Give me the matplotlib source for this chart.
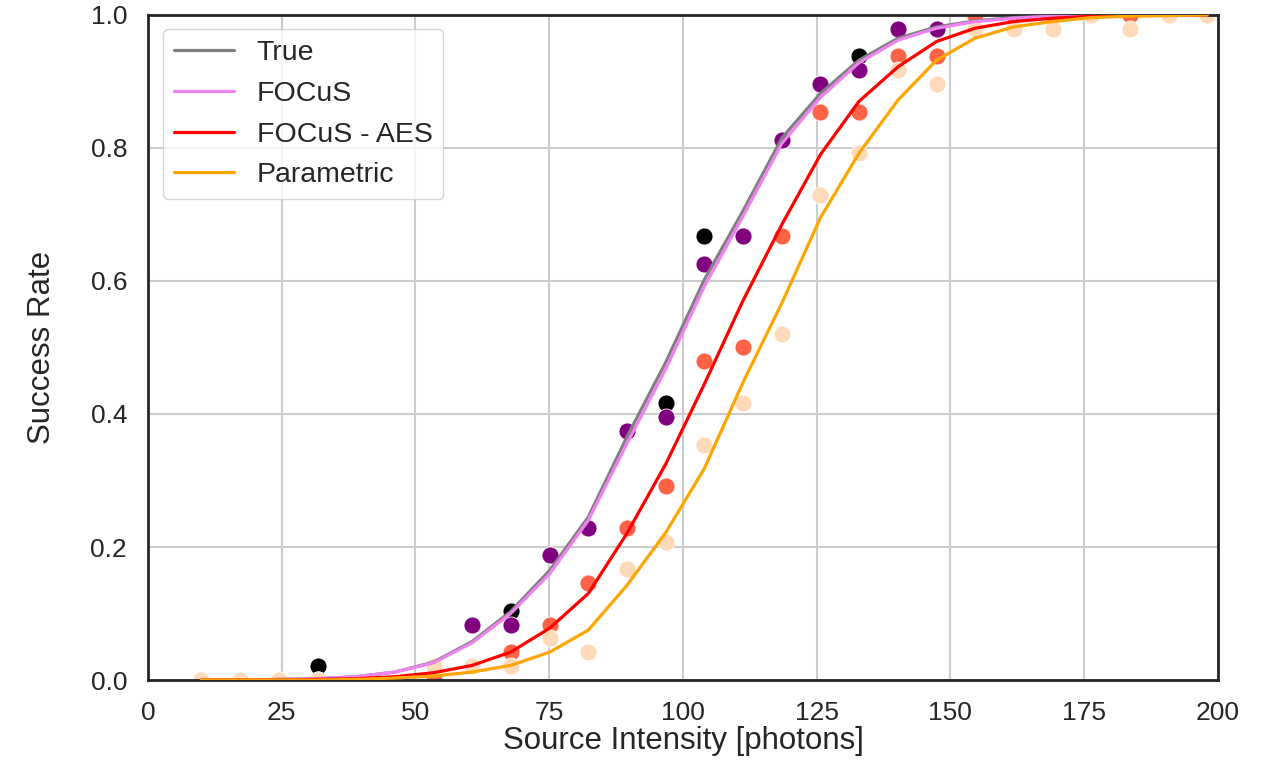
import numpy as np
import matplotlib
matplotlib.use("Agg")
import matplotlib.pyplot as plt
import seaborn as sns

# ---------------------------------------------------------------------------
# Data
# ---------------------------------------------------------------------------
intensity = [10.0, 17.2, 24.5, 31.7, 38.9, 46.2, 53.4, 60.6, 67.8, 75.1, 82.3,
             89.5, 96.8, 104.0, 111.2, 118.5, 125.7, 132.9, 140.2, 147.4,
             154.6, 161.8, 169.1, 176.3, 183.5, 190.8, 198.0]

# fitted curves
true_curve = [0.0, 0.0, 0.001, 0.002, 0.005, 0.012, 0.027, 0.058, 0.103, 0.165,
              0.245, 0.365, 0.478, 0.602, 0.705, 0.815, 0.882, 0.932, 0.965,
              0.982, 0.991, 0.996, 0.998, 0.999, 1.0, 1.0, 1.0]
focus_curve = [0.0, 0.0, 0.001, 0.002, 0.005, 0.012, 0.026, 0.056, 0.100, 0.160,
               0.240, 0.355, 0.468, 0.592, 0.697, 0.807, 0.876, 0.928, 0.962,
               0.980, 0.990, 0.995, 0.998, 0.999, 1.0, 1.0, 1.0]
aes_curve = [0.0, 0.0, 0.0, 0.001, 0.002, 0.005, 0.011, 0.022, 0.042, 0.078,
             0.130, 0.220, 0.325, 0.445, 0.570, 0.685, 0.790, 0.870, 0.922,
             0.960, 0.980, 0.990, 0.995, 0.998, 0.999, 1.0, 1.0]
param_curve = [0.0, 0.0, 0.0, 0.0, 0.001, 0.003, 0.006, 0.012, 0.022, 0.042,
               0.075, 0.142, 0.222, 0.318, 0.447, 0.567, 0.695, 0.792, 0.872,
               0.932, 0.965, 0.982, 0.990, 0.996, 0.998, 0.999, 1.0]

# empirical success rates (nan = no point)
nan = np.nan
true_pts = [0.0, 0.0, 0.0, 0.021, nan, nan, 0.0, 0.083, 0.104, 0.188, 0.229,
            0.375, 0.417, 0.667, 0.667, 0.812, 0.896, 0.938, 0.979, 0.979,
            1.0, 1.0, 1.0, 1.0, 1.0, 1.0, 1.0]
focus_pts = [0.0, 0.0, 0.0, 0.0, nan, nan, 0.0, 0.083, 0.083, 0.188, 0.229,
             0.375, 0.396, 0.625, 0.667, 0.812, 0.896, 0.917, 0.979, 0.979,
             1.0, 1.0, 1.0, 1.0, 1.0, 1.0, 1.0]
aes_pts = [0.0, 0.0, 0.0, 0.0, nan, nan, 0.0, 0.021, 0.042, 0.083, 0.146,
           0.229, 0.292, 0.479, 0.500, 0.667, 0.854, 0.854, 0.938, 0.938,
           1.0, 1.0, 1.0, 1.0, 1.0, 1.0, 1.0]
param_pts = [0.0, 0.0, 0.0, 0.0, nan, nan, 0.021, 0.021, 0.021, 0.063, 0.042,
             0.167, 0.208, 0.354, 0.417, 0.521, 0.729, 0.792, 0.917, 0.896,
             0.979, 0.979, 0.979, 1.0, 0.979, 1.0, 1.0]

labels = ["True", "FOCuS", "FOCuS - AES", "Parametric"]
line_colors = ["grey", "violet", "red", "orange"]
dot_colors = ["black", "purple", "tomato", "peachpuff"]

# ---------------------------------------------------------------------------
sns.set_theme(style="whitegrid")
plt.rcParams["font.family"] = ["Liberation Sans", "DejaVu Sans"]

fig = plt.figure(figsize=(12.7, 7.61), dpi=100)
ax = fig.add_axes([0.1165, 0.1064, 0.8425, 0.874])

x = np.array(intensity)
for pts, c in zip([true_pts, focus_pts, aes_pts, param_pts], dot_colors):
    ax.scatter(x, pts, s=150, color=c, edgecolor="white", linewidth=0.6, zorder=2)

for curve, lab, c in zip([true_curve, focus_curve, aes_curve, param_curve], labels, line_colors):
    ax.plot(x, curve, color=c, lw=2.3, label=lab, zorder=3)

ax.set_xlim(0, 200)
ax.set_ylim(0, 1)
ax.set_xticks(np.arange(0, 201, 25))
ax.set_yticks(np.arange(0, 1.01, 0.2))
ax.tick_params(labelsize=19, colors="#262626", pad=9)
ax.set_xlabel("Source Intensity [photons]", fontsize=22.5, color="#262626", labelpad=1)
ax.set_ylabel("Success Rate", fontsize=22.5, color="#262626", labelpad=24)
ax.grid(True, color="#cccccc", lw=1.5)
for sp in ax.spines.values():
    sp.set_color("#262626")
    sp.set_linewidth(2)

ax.legend(loc="upper left", fontsize=20.5, frameon=True, handlelength=2.1,
          handletextpad=0.8, borderpad=0.38, labelspacing=0.52,
          bbox_to_anchor=(0.001, 1.0))

fig.savefig("out.png", dpi=100)
